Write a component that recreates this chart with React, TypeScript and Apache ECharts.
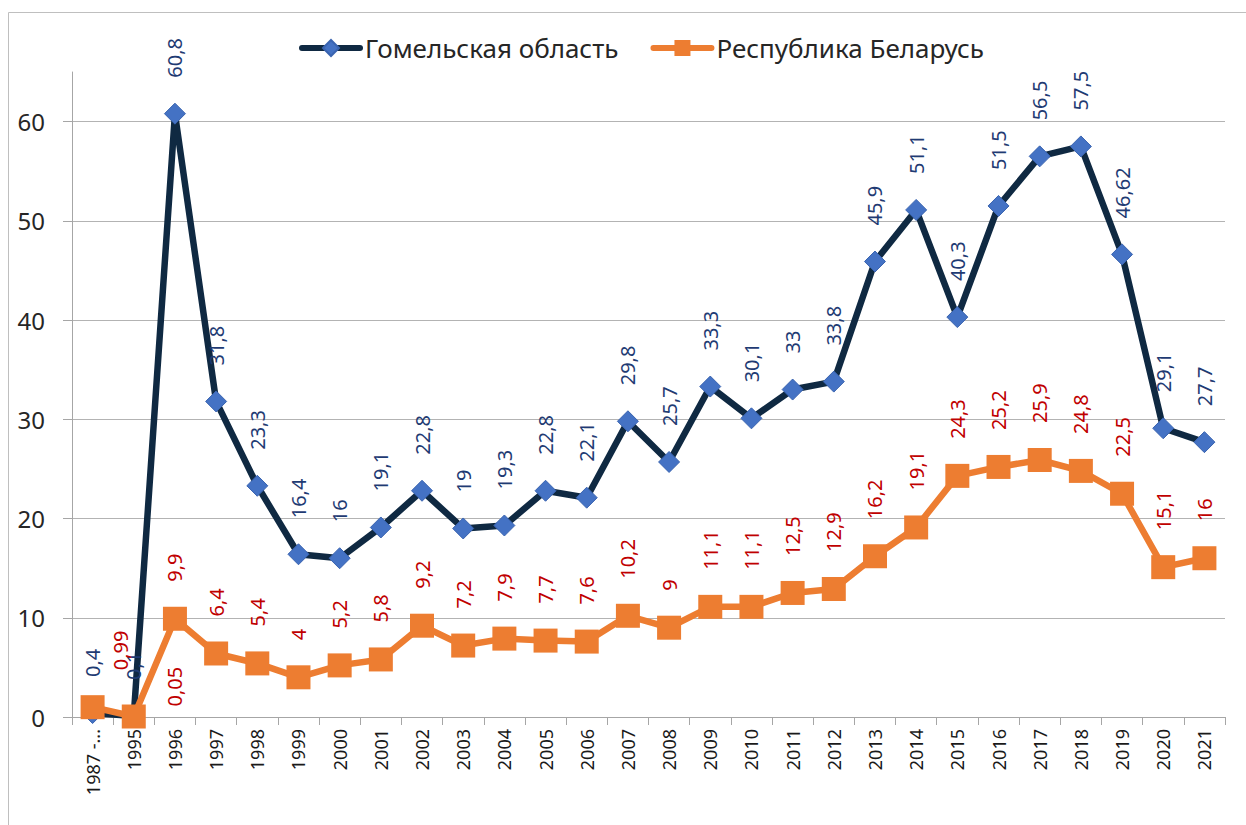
import React, { useEffect, useRef } from "react";
import * as echarts from "echarts";

const categories = [
  "1987 -...", "1995", "1996", "1997", "1998", "1999", "2000", "2001", "2002", "2003",
  "2004", "2005", "2006", "2007", "2008", "2009", "2010", "2011", "2012", "2013",
  "2014", "2015", "2016", "2017", "2018", "2019", "2020", "2021",
];
const gomel = [
  0.4, 0.1, 60.8, 31.8, 23.3, 16.4, 16, 19.1, 22.8, 19, 19.3, 22.8, 22.1, 29.8, 25.7,
  33.3, 30.1, 33, 33.8, 45.9, 51.1, 40.3, 51.5, 56.5, 57.5, 46.62, 29.1, 27.7,
];
const belarus = [
  0.99, 0.05, 9.9, 6.4, 5.4, 4, 5.2, 5.8, 9.2, 7.2, 7.9, 7.7, 7.6, 10.2, 9, 11.1, 11.1,
  12.5, 12.9, 16.2, 19.1, 24.3, 25.2, 25.9, 24.8, 22.5, 15.1, 16,
];
const seriesNames = ["Гомельская область", "Республика Беларусь"];

const FONT = "'Noto Sans', sans-serif";
const fmt = (v: number) => String(v).replace(".", ",");

export default function App() {
  const ref = useRef<HTMLDivElement>(null);
  useEffect(() => {
    if (!ref.current) return;
    const chart = echarts.init(ref.current, null, { renderer: "svg" });
    const labelBase = {
      show: true,
      position: "top",
      rotate: 90,
      align: "left",
      verticalAlign: "middle",
      fontFamily: FONT,
      fontSize: 20,
      formatter: (p: any) => fmt(p.value),
    };
    // offsets are in the label's rotated frame: [-screenDy, screenDx]
    const belarusOffsets: Record<number, number[]> = { 0: [0, 28], 1: [-27, 41] };
    chart.setOption({
      animation: false,
      graphic: [
        {
          type: "rect",
          shape: { x: 8.5, y: 12.5, width: 1260, height: 840 },
          style: { fill: "none", stroke: "#bfbfbf", lineWidth: 1 },
          silent: true,
        },
      ],
      legend: {
        top: 30,
        left: 294,
        itemWidth: 58,
        itemHeight: 20,
        itemGap: 32,
        lineStyle: { width: 6, cap: "round" },
        textStyle: { fontFamily: FONT, fontSize: 26, color: "#262626" },
        data: seriesNames,
      },
      grid: { left: 72, right: 21, top: 72, bottom: 108, containLabel: false },
      xAxis: {
        type: "category",
        data: categories,
        boundaryGap: true,
        axisLine: { show: true, lineStyle: { color: "#a6a6a6", width: 1 } },
        axisTick: { show: true, interval: 0, length: 8, lineStyle: { color: "#a6a6a6" } },
        axisLabel: {
          interval: 0,
          rotate: 90,
          margin: 12,
          fontFamily: FONT,
          fontSize: 18,
          color: "#1a1a1a",
        },
        splitLine: { show: false },
      },
      yAxis: {
        type: "value",
        min: 0,
        max: 65,
        interval: 10,
        axisLine: { show: true, lineStyle: { color: "#a6a6a6", width: 1 } },
        axisTick: { show: true, length: 9, lineStyle: { color: "#a6a6a6" } },
        axisLabel: {
          margin: 27,
          fontFamily: FONT,
          fontSize: 24,
          color: "#262626",
          showMaxLabel: false,
        },
        splitLine: {
          show: true,
          showMaxLine: false,
          lineStyle: { color: "#b3b3b3", width: 1 },
        },
      },
      series: [
        {
          name: seriesNames[0],
          type: "line",
          data: gomel,
          symbol: "diamond",
          symbolSize: 21,
          lineStyle: { color: "#0f2942", width: 6.5 },
          itemStyle: { color: "#4472c4", borderColor: "#3a64b0", borderWidth: 1 },
          label: { ...labelBase, distance: 25, color: "#1f3b73" },
          z: 2,
        },
        {
          name: seriesNames[1],
          type: "line",
          data: belarus.map((v, i) => ({
            value: v,
            label: belarusOffsets[i] ? { offset: belarusOffsets[i] } : undefined,
          })),
          symbol: "rect",
          symbolSize: 24,
          lineStyle: { color: "#ed7d31", width: 6.5 },
          itemStyle: { color: "#ed7d31" },
          label: { ...labelBase, distance: 25, color: "#c00000" },
          z: 3,
        },
      ],
    });
    return () => chart.dispose();
  }, []);
  return (
    <div
      ref={ref}
      style={{ position: "fixed", left: 0, top: 0, width: 1246, height: 825, background: "#fff" }}
    />
  );
}
